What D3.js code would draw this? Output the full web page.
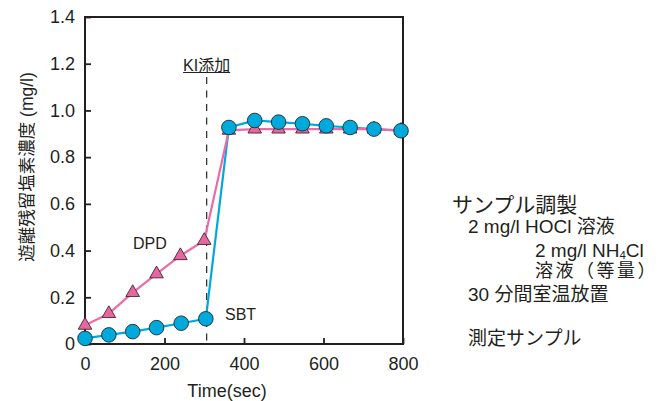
<!DOCTYPE html>
<html>
<head>
<meta charset="utf-8">
<script src="https://cdn.jsdelivr.net/npm/d3@7"></script>
<style>
  html, body { margin: 0; padding: 0; background: #fff; }
  svg { display: block; }
  text { font-family: "Liberation Sans", Arial, "Noto Sans CJK JP", sans-serif; fill: #231f20; text-spacing-trim: space-all; }
</style>
</head>
<body>
<svg id="chart" width="661" height="401"></svg>
<script>
// Free residual chlorine measured by DPD and SBT before/after KI addition
const dpdTime  = [0, 60, 120, 180, 240, 300, 362, 427, 487, 547, 607, 667, 727, 795];
const dpdValue = [0.08, 0.13, 0.22, 0.30, 0.378, 0.443, 0.915, 0.92, 0.92, 0.92, 0.92, 0.92, 0.92, 0.915];
const sbtTime  = [0, 60, 120, 180, 242, 304, 362, 427, 487, 547, 607, 667, 727, 795];
const sbtValue = [0.024, 0.039, 0.053, 0.07, 0.089, 0.108, 0.927, 0.957, 0.95, 0.943, 0.934, 0.927, 0.92, 0.913];
const kiTime = 306;
const xTicks = [0, 200, 400, 600, 800];
const yTicks = [0, 0.2, 0.4, 0.6, 0.8, 1.0, 1.2, 1.4];
const noteLines = ["サンプル調製", "2 mg/l HOCl 溶液", "2 mg/l NH4Cl", "溶液（等量）", "30 分間室温放置", "測定サンプル"];

const svg = d3.select("#chart");
const plotLeft = 85, plotRight = 403, plotTop = 17, plotBottom = 344;
const x = d3.scaleLinear().domain([0, 800]).range([plotLeft, plotRight]);
const y = d3.scaleLinear().domain([0, 1.4]).range([plotBottom, plotTop]);

const ink = "#231f20";
const cyan = "#00a8dc";
const pink = "#ee6aa7";

// axes with inward ticks
const xAxis = svg.append("g").attr("transform", `translate(0,${plotBottom})`)
  .call(d3.axisBottom(x).tickValues(xTicks).tickFormat(d3.format("d"))
    .tickSizeInner(-6).tickSizeOuter(0).tickPadding(13));
const yAxis = svg.append("g").attr("transform", `translate(${plotLeft},0)`)
  .call(d3.axisLeft(y).tickValues(yTicks).tickFormat(d => d === 0 ? "0" : d3.format(".1f")(d))
    .tickSizeInner(-6).tickSizeOuter(0).tickPadding(10));
[xAxis, yAxis].forEach(g => {
  g.select(".domain").remove();
  g.selectAll(".tick line").attr("stroke", ink).attr("stroke-width", 1.8);
  g.selectAll(".tick text").attr("font-size", 18).attr("fill", ink)
    .style("font-family", '"Liberation Sans", Arial, sans-serif');
});

// frame
svg.append("rect")
  .attr("x", plotLeft).attr("y", plotTop)
  .attr("width", plotRight - plotLeft).attr("height", plotBottom - plotTop)
  .attr("fill", "none").attr("stroke", ink).attr("stroke-width", 2);

// KI addition marker
svg.append("line")
  .attr("x1", x(kiTime)).attr("x2", x(kiTime))
  .attr("y1", 77).attr("y2", plotBottom)
  .attr("stroke", "#333").attr("stroke-width", 1.3)
  .attr("stroke-dasharray", "7,6.5");
const ki = svg.append("text")
  .attr("x", x(kiTime)).attr("y", 70.5)
  .attr("text-anchor", "middle").attr("font-size", 16)
  .text("KI添加");
const kb = ki.node().getBBox();
svg.append("line")
  .attr("x1", kb.x).attr("x2", kb.x + kb.width)
  .attr("y1", 72.5).attr("y2", 72.5)
  .attr("stroke", ink).attr("stroke-width", 1.2);

// series lines
const dpd = dpdTime.map((t, i) => [t, dpdValue[i]]);
const sbt = sbtTime.map((t, i) => [t, sbtValue[i]]);
const line = d3.line().x(d => x(d[0])).y(d => y(d[1]));

svg.append("path").datum(sbt).attr("d", line)
  .attr("fill", "none").attr("stroke", cyan).attr("stroke-width", 2.2);
svg.append("path").datum(dpd).attr("d", line)
  .attr("fill", "none").attr("stroke", pink).attr("stroke-width", 2.2);

// markers
svg.append("g").selectAll("path").data(dpd).join("path")
  .attr("transform", d => `translate(${x(d[0])},${y(d[1])})`)
  .attr("d", d3.symbol(d3.symbolTriangle, 80))
  .attr("fill", "#e8659f").attr("stroke", "#3a2a30").attr("stroke-width", 0.9);
svg.append("g").selectAll("circle").data(sbt).join("circle")
  .attr("cx", d => x(d[0])).attr("cy", d => y(d[1])).attr("r", 7.3)
  .attr("fill", "#00a9dc").attr("stroke", "#1e2a30").attr("stroke-width", 0.9);

// series labels
svg.append("text").attr("x", 133).attr("y", 248.5).attr("font-size", 16).text("DPD");
svg.append("text").attr("x", 225).attr("y", 320).attr("font-size", 16).text("SBT");

// axis titles
svg.append("text").attr("x", 227).attr("y", 397)
  .attr("text-anchor", "middle").attr("font-size", 18).text("Time(sec)");
svg.append("text")
  .attr("transform", "translate(33,167) rotate(-90)")
  .attr("text-anchor", "middle").attr("font-size", 17.5)
  .text("遊離残留塩素濃度 (mg/l)");

// sample preparation notes
const notePos = [
  {x: 452, y: 212, size: 21, spacing: 0},
  {x: 468, y: 233, size: 19, spacing: 0},
  {x: 535, y: 256.5, size: 19, spacing: 0},
  {x: 535, y: 276.5, size: 18, spacing: 2.5},
  {x: 468, y: 301, size: 19, spacing: 0},
  {x: 468, y: 345, size: 19, spacing: 0}
];
noteLines.forEach((s, i) => {
  const p = notePos[i];
  const t = svg.append("text").attr("x", p.x).attr("y", p.y)
    .attr("font-size", p.size).style("letter-spacing", p.spacing + "px");
  const m = s.match(/^(.*NH)(\d)(.*)$/);
  if (m) {
    t.append("tspan").text(m[1]);
    t.append("tspan").attr("font-size", p.size * 0.6).attr("dy", 2).text(m[2]);
    t.append("tspan").attr("dy", -2).text(m[3]);
  } else {
    t.text(s);
  }
});
</script>
</body>
</html>
